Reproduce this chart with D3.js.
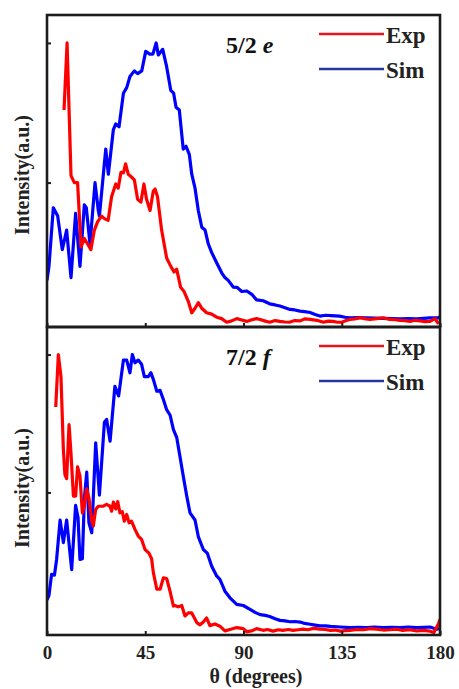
<!DOCTYPE html>
<html><head><meta charset="utf-8">
<script src="https://cdn.jsdelivr.net/npm/d3@7"></script>
<style>body{margin:0;background:#fff;} svg{display:block;}</style>
</head><body>
<script>
// ---------- data ----------
const xTicks = [0, 45, 90, 135, 180];
const yTicks = [0.5, 1];
const seriesNames = ["Exp", "Sim"];
const panelLabels = [["5/2 ", "e"], ["7/2 ", "f"]];

const expE = [[7.8,0.76],[9.2,1.0],[11,0.525],[12.5,0.5],[14,0.5],[15.6,0.27],[17.1,0.3],[18.6,0.28],[20.1,0.26],[21.7,0.33],[23.2,0.36],[25,0.38],[26.5,0.37],[28,0.365],[29.6,0.45],[31.5,0.495],[32.6,0.48],[33.9,0.537],[35,0.535],[36,0.567],[37.2,0.53],[38.7,0.52],[40,0.51],[41.5,0.44],[43,0.43],[44.4,0.495],[45.6,0.44],[47.2,0.4],[48.7,0.47],[49.5,0.477],[50.6,0.45],[52.5,0.33],[54.8,0.23],[56.7,0.2],[58.2,0.18],[59.4,0.19],[61.2,0.125],[62.8,0.11],[64.7,0.075],[66.3,0.034],[67.8,0.05],[69.3,0.07],[70.9,0.05],[73.1,0.034],[75.4,0.029],[77.7,0.018],[80,0.013],[82.3,0.0],[84.6,0.005],[86.9,0.013],[89.2,0.008],[91.5,0.003],[93.8,0.009],[96,0.013],[97.6,0.01],[100,0.004],[102,0.0],[104.5,0.006],[106.7,0.003],[109,0.001],[111,0.0],[113.5,0.006],[116,0.005],[118,0.012],[120.5,0.01],[123.6,0.007],[126.6,0.0],[128.8,0.004],[131,0.003],[133,0.0],[135,0.0],[137,0.006],[138.8,0.01],[141,0.012],[143.5,0.016],[146,0.012],[148,0.01],[151,0.013],[154,0.016],[157,0.01],[159.5,0.009],[161.7,0.007],[164,0.006],[166.3,0.003],[168.5,0.007],[171,0.005],[173,0.002],[175.4,0.003],[177.7,0.013],[179.3,-0.006]];

const simE = [[0,0.15],[0.9,0.2],[2.9,0.41],[4.9,0.38],[7,0.26],[9,0.33],[11,0.16],[13.1,0.39],[15.1,0.2],[17.1,0.42],[18,0.41],[19.7,0.28],[22,0.5],[23.5,0.4],[24,0.38],[26.9,0.62],[28.1,0.53],[30.4,0.69],[31.5,0.71],[33,0.7],[35,0.82],[36.5,0.84],[38,0.88],[40,0.9],[41.5,0.89],[43.4,0.9],[45.2,0.97],[47.1,0.96],[48.5,0.96],[50,1.0],[51,0.957],[53,0.977],[54.8,0.915],[56.7,0.83],[58,0.82],[59.1,0.77],[60.6,0.76],[62.4,0.62],[63.7,0.63],[65.2,0.6],[66.3,0.53],[67.8,0.48],[69.3,0.4],[70.9,0.34],[72.4,0.33],[73.9,0.28],[75.4,0.25],[77.7,0.213],[80,0.177],[81.5,0.16],[83,0.15],[85.3,0.126],[87.1,0.125],[89.2,0.11],[91.5,0.112],[93.8,0.1],[96,0.08],[99,0.077],[102,0.066],[104.5,0.062],[106.7,0.058],[109,0.052],[111.3,0.046],[113.5,0.044],[115.9,0.04],[118,0.038],[120.5,0.035],[122.8,0.028],[125,0.022],[127.5,0.025],[130,0.024],[134,0.022],[136.5,0.018],[138.8,0.016],[142,0.017],[146.4,0.016],[150,0.015],[154,0.014],[158,0.013],[161.7,0.012],[165.5,0.013],[169.3,0.012],[172.5,0.014],[175.4,0.016],[179.2,0.016],[180,0.02]];

const expF = [[4,0.81],[5.2,1.0],[6.4,0.92],[7.5,0.656],[8.2,0.565],[9,0.55],[10.1,0.746],[11,0.64],[12.1,0.487],[13.1,0.487],[14,0.593],[15.1,0.56],[16.2,0.426],[17.1,0.45],[18.2,0.513],[19.2,0.48],[20.5,0.396],[21.2,0.378],[22.3,0.438],[23.5,0.45],[25.8,0.45],[27.3,0.457],[28.9,0.45],[29.6,0.432],[30.4,0.465],[31.5,0.44],[32.4,0.467],[33.4,0.426],[34.5,0.43],[35.4,0.396],[36.5,0.42],[37.6,0.39],[38.7,0.396],[40.3,0.366],[41.8,0.342],[43.3,0.33],[44.9,0.293],[46.7,0.28],[47.9,0.26],[48.7,0.21],[50.3,0.149],[51.8,0.149],[53.3,0.19],[54.8,0.188],[56.4,0.14],[57.9,0.088],[58.6,0.09],[60.1,0.085],[61.7,0.09],[63.2,0.052],[64.7,0.063],[66.3,0.063],[68.6,0.028],[70.1,0.02],[71.6,0.03],[73.1,0.045],[74.6,0.017],[76.9,0.023],[79.2,0.015],[81.5,-0.002],[83.8,0.003],[86.9,0.01],[89.9,0.006],[91.5,-0.005],[93.8,-0.002],[96,0.006],[99,0.0],[101,0.003],[103.5,-0.003],[106,0.002],[108,0.0],[110.5,0.003],[112.7,0.0],[115,0.002],[117.3,0.004],[119.5,0.002],[122,0.007],[125,0.004],[127.5,0.003],[129.8,0.0],[132,0.001],[134.4,-0.003],[136.5,-0.001],[138.8,0.0],[142,0.003],[145,0.002],[148,0.006],[151,0.004],[154,0.001],[157,0.002],[160,0.004],[163,0.0],[166,0.002],[169.3,-0.002],[172.5,0.0],[175.4,-0.003],[177.2,-0.008],[179.3,0.024],[180,0.04]];

const simF = [[0,0.11],[0.9,0.127],[2.1,0.203],[3.4,0.2],[4.4,0.257],[6,0.4],[7.5,0.318],[9,0.4],[11.3,0.22],[13.1,0.453],[14.2,0.41],[15.1,0.257],[16.2,0.26],[17.1,0.475],[18.2,0.574],[19.2,0.39],[20.5,0.354],[22.3,0.68],[24,0.49],[26.3,0.755],[27.3,0.765],[28.9,0.686],[31.1,0.885],[32.8,0.85],[35,0.98],[36.5,0.98],[38,0.934],[39.1,1.0],[40.3,0.97],[41.8,0.98],[43.3,0.965],[44.6,0.92],[46.4,0.92],[47.6,0.934],[48.7,0.91],[50.3,0.867],[51.8,0.87],[53.3,0.837],[54.8,0.8],[56.4,0.78],[57.9,0.728],[59.4,0.7],[60.9,0.63],[62.4,0.56],[64,0.487],[65.5,0.426],[67.8,0.4],[69.3,0.34],[71.6,0.293],[73.4,0.28],[75.4,0.233],[77.7,0.197],[79.2,0.185],[81.5,0.142],[83.8,0.118],[86.9,0.094],[89.9,0.09],[93,0.076],[95.3,0.065],[97.6,0.057],[100,0.054],[102,0.05],[104.5,0.042],[106.7,0.036],[109,0.034],[111.3,0.031],[113.5,0.032],[116,0.03],[118,0.025],[120.5,0.022],[122.8,0.019],[125,0.016],[127.5,0.016],[129.8,0.014],[134.4,0.012],[138.8,0.01],[142.5,0.011],[146.4,0.01],[150,0.012],[154,0.01],[158,0.011],[161.7,0.01],[165.5,0.012],[169.3,0.01],[172.5,0.011],[175.4,0.012],[178.5,0.004],[180,0.006]];

// ---------- layout ----------
const W = 459, H = 689;
const left = 47, right = 440;
const panels = [
  {top: 15, bottom: 327, exp: expE, sim: simE, label: panelLabels[0], showX: false, labelY: 175},
  {top: 327, bottom: 635, exp: expF, sim: simF, label: panelLabels[1], showX: true, labelY: 488}
];
const font = "'Liberation Serif','Times New Roman',serif";
const frameColor = "#1c1c1c";

const svg = d3.select("body").append("svg").attr("width", W).attr("height", H)
  .style("background", "#fff");

const x = d3.scaleLinear().domain([0, 180]).range([left, right]);

panels.forEach((p, i) => {
  const y = d3.scaleLinear().domain([-0.017, 1.1]).range([p.bottom, p.top]);
  const g = svg.append("g");
  const cid = "clip" + i;
  svg.append("clipPath").attr("id", cid).append("rect")
    .attr("x", left).attr("y", p.top).attr("width", right - left).attr("height", p.bottom - p.top);

  const line = d3.line().x(d => x(d[0])).y(d => y(d[1]));
  const cg = g.append("g").attr("clip-path", `url(#${cid})`);
  cg.append("path").datum(p.sim).attr("d", line).attr("fill", "none")
    .attr("stroke", "#0000ff").attr("stroke-width", 3.2).attr("stroke-linejoin", "round");
  cg.append("path").datum(p.exp).attr("d", line).attr("fill", "none")
    .attr("stroke", "#ff0000").attr("stroke-width", 3.2).attr("stroke-linejoin", "round");

  // axes (inward ticks)
  const xa = g.append("g").attr("transform", `translate(0,${p.bottom})`)
    .call(d3.axisBottom(x).tickValues(xTicks).tickSizeInner(-4).tickSizeOuter(0).tickPadding(10));
  xa.select(".domain").remove();
  xa.selectAll(".tick line").attr("stroke", frameColor).attr("stroke-width", 2);
  if (p.showX) {
    xa.selectAll(".tick text").attr("font-family", font).attr("font-weight", "bold")
      .attr("font-size", 19).attr("fill", "#222").attr("dy", 0).attr("y", 24);
  } else {
    xa.selectAll(".tick text").remove();
  }
  const ya = g.append("g").attr("transform", `translate(${left},0)`)
    .call(d3.axisLeft(y).tickValues(yTicks).tickSizeInner(-4).tickSizeOuter(0));
  ya.select(".domain").remove();
  ya.selectAll(".tick text").remove();
  ya.selectAll(".tick line").attr("stroke", frameColor).attr("stroke-width", 2);

  // frame
  g.append("rect").attr("x", left).attr("y", p.top).attr("width", right - left)
    .attr("height", p.bottom - p.top).attr("fill", "none")
    .attr("stroke", frameColor).attr("stroke-width", 2.6);

  // y label
  g.append("text").attr("transform", `translate(29,${p.labelY}) rotate(-90)`)
    .attr("text-anchor", "middle").attr("font-family", font).attr("font-weight", "bold")
    .attr("font-size", 20).attr("fill", "#222").text("Intensity(a.u.)");

  // panel label
  const lt = g.append("text").attr("x", 226).attr("y", p.top + 37.5)
    .attr("font-family", font).attr("font-weight", "bold").attr("font-size", 24).attr("fill", "#111");
  lt.append("tspan").text(p.label[0]);
  lt.append("tspan").attr("font-style", "italic").text(p.label[1]);

  // legend
  const legColors = ["#e8141c", "#26369a"];
  seriesNames.forEach((n, k) => {
    const ly = p.top + 19 + k * 35;
    g.append("line").attr("x1", 319).attr("x2", 384).attr("y1", ly).attr("y2", ly)
      .attr("stroke", legColors[k]).attr("stroke-width", 2.5);
    g.append("text").attr("x", 386).attr("y", ly + 8.5).attr("font-family", font)
      .attr("font-weight", "bold").attr("font-size", 23).attr("fill", "#222").text(n);
  });
});

svg.append("text").attr("x", 256).attr("y", 683).attr("text-anchor", "middle")
  .attr("font-family", font).attr("font-weight", "bold").attr("font-size", 20)
  .attr("fill", "#222").text("θ (degrees)");
</script>
</body></html>
